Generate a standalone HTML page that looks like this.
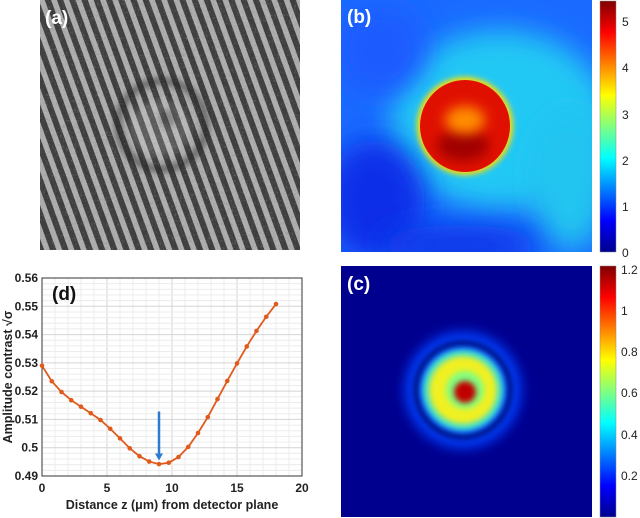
<!DOCTYPE html>
<html><head><meta charset="utf-8"><style>
html,body{margin:0;padding:0;background:#fff;}
svg{display:block;font-family:"Liberation Sans",sans-serif;}
</style></head><body>
<svg id="fig" width="640" height="518" viewBox="0 0 640 518">
<defs>
  <pattern id="stripes" width="11.5" height="20" patternUnits="userSpaceOnUse" patternTransform="rotate(-20)">
    <rect width="11.5" height="20" fill="#3a3a3a"/>
    <rect x="2" width="5.5" height="20" fill="#b0b0b0"/>
  </pattern>
  <filter id="blur3" x="-100%" y="-100%" width="300%" height="300%"><feGaussianBlur stdDeviation="3"/></filter>
  <filter id="blur6" x="-100%" y="-100%" width="300%" height="300%"><feGaussianBlur stdDeviation="6"/></filter>
  <filter id="blur12" x="-100%" y="-100%" width="300%" height="300%"><feGaussianBlur stdDeviation="14"/></filter>
  <filter id="noise"><feTurbulence baseFrequency="0.35" numOctaves="2" seed="3"/><feColorMatrix type="saturate" values="0"/><feComponentTransfer><feFuncA type="table" tableValues="0 0.4"/></feComponentTransfer></filter>
  <linearGradient id="jet" x1="0" y1="1" x2="0" y2="0">
    <stop offset="0" stop-color="#00008f"/>
    <stop offset="0.125" stop-color="#0000ff"/>
    <stop offset="0.375" stop-color="#00ffff"/>
    <stop offset="0.625" stop-color="#ffff00"/>
    <stop offset="0.875" stop-color="#ff0000"/>
    <stop offset="1" stop-color="#800000"/>
  </linearGradient>
  <clipPath id="clipA"><rect x="40" y="0" width="260" height="250"/></clipPath>
  <clipPath id="clipB"><rect x="341" y="0" width="251" height="252"/></clipPath>
  <clipPath id="clipC"><rect x="341" y="266" width="251" height="251"/></clipPath>
</defs>

<!-- Panel (a) -->
<g clip-path="url(#clipA)">
  <rect x="40" y="0" width="260" height="250" fill="url(#stripes)"/>
  <rect x="40" y="0" width="260" height="250" filter="url(#noise)"/>
  <circle cx="162" cy="125" r="44" fill="none" stroke="#222" stroke-width="8" opacity="0.45" filter="url(#blur3)"/>
  <ellipse cx="160" cy="128" rx="30" ry="28" fill="#fff" opacity="0.15" filter="url(#blur3)"/>
  <circle cx="168" cy="118" r="9" fill="#222" opacity="0.3" filter="url(#blur3)"/>
  <text x="45" y="24" font-size="19" font-weight="bold" fill="#fff">(a)</text>
</g>

<!-- Panel (b) -->
<g clip-path="url(#clipB)">
  <rect x="341" y="0" width="251" height="252" fill="#1a6aff"/>
  <ellipse cx="500" cy="120" rx="110" ry="90" fill="#22c8f4" filter="url(#blur12)"/>
  <ellipse cx="570" cy="180" rx="40" ry="70" fill="#20c4f0" filter="url(#blur12)"/>
  <ellipse cx="375" cy="200" rx="50" ry="60" fill="#0a2ee8" filter="url(#blur12)"/>
  <ellipse cx="380" cy="50" rx="45" ry="45" fill="#1a5cff" filter="url(#blur12)"/>
  <ellipse cx="460" cy="245" rx="80" ry="20" fill="#0a35e8" filter="url(#blur12)"/>
  <ellipse cx="465" cy="126" rx="48" ry="49" fill="#ffe000" filter="url(#blur3)"/>
  <ellipse cx="465" cy="126" rx="45" ry="46" fill="#e01000"/>
  <ellipse cx="463" cy="145" rx="26" ry="16" fill="#a00000" filter="url(#blur6)"/>
  <ellipse cx="465" cy="120" rx="20" ry="14" fill="#ff8c00" filter="url(#blur6)"/>
  <text x="347" y="23" font-size="19" font-weight="bold" fill="#fff">(b)</text>
</g>
<g>
  <rect x="600" y="1" width="16" height="251" fill="url(#jet)" stroke="#888" stroke-width="0.5"/>
  <g font-size="12" fill="#222">
    <text x="622" y="26">5</text><text x="622" y="72">4</text><text x="622" y="119">3</text>
    <text x="622" y="165">2</text><text x="622" y="211">1</text><text x="622" y="257">0</text>
  </g>
</g>

<!-- Panel (c) -->
<g clip-path="url(#clipC)">
  <rect x="341" y="266" width="251" height="251" fill="#00008f"/>
  <circle cx="463" cy="390" r="58" fill="#0040ff" filter="url(#blur6)"/>
  <circle cx="463" cy="390" r="47" fill="none" stroke="#000050" stroke-width="4" filter="url(#blur3)"/>
  <circle cx="463" cy="390" r="41" fill="#40e0d0" filter="url(#blur3)"/>
  <circle cx="463" cy="390" r="34" fill="#f0f020" filter="url(#blur3)"/>
  <circle cx="465" cy="390" r="19" fill="#80ff80" filter="url(#blur3)"/>
  <circle cx="465" cy="392" r="11" fill="#c00000" filter="url(#blur3)"/>
  <text x="347" y="290" font-size="19" font-weight="bold" fill="#fff">(c)</text>
</g>
<g>
  <rect x="600" y="266" width="16" height="251" fill="url(#jet)" stroke="#888" stroke-width="0.5"/>
  <g font-size="12" fill="#222">
    <text x="621" y="274">1.2</text><text x="621" y="315">1</text><text x="621" y="356">0.8</text>
    <text x="621" y="397">0.6</text><text x="621" y="439">0.4</text><text x="621" y="480">0.2</text>
  </g>
</g>

<!-- Panel (d) chart -->
<g id="chart"></g>
</svg>
<script>
const xs = [0,0.75,1.5,2.25,3,3.75,4.5,5.25,6,6.75,7.5,8.25,9,9.75,10.5,11.25,12,12.75,13.5,14.25,15,15.75,16.5,17.25,18];
const ys = [0.529,0.5235,0.5197,0.5168,0.5145,0.5122,0.5098,0.5067,0.5033,0.4998,0.497,0.4951,0.4942,0.4947,0.4967,0.5003,0.5052,0.5108,0.5172,0.5236,0.5298,0.5358,0.5413,0.5463,0.5508];
const xTicks = [0,5,10,15,20];
const yTicks = [0.49,0.5,0.51,0.52,0.53,0.54,0.55,0.56];
const yTickLabels = ["0.49","0.5","0.51","0.52","0.53","0.54","0.55","0.56"];
const arrowX = 9, arrowTop = 0.5128, arrowBottom = 0.4955;

const NS = "http://www.w3.org/2000/svg";
const g = document.getElementById("chart");
const L=42, R=302, T=278, B=476;
const sx = v => L + (v-0)/(20-0)*(R-L);
const sy = v => B - (v-0.49)/(0.56-0.49)*(B-T);
function mk(tag, attrs, parent){const e=document.createElementNS(NS,tag);for(const k in attrs)e.setAttribute(k,attrs[k]);(parent||g).appendChild(e);return e;}

mk("rect",{x:L,y:T,width:R-L,height:B-T,fill:"#fff"});
for(let x=1;x<20;x++){
  const l=mk("line",{x1:sx(x),x2:sx(x),y1:T,y2:B,stroke:x%5===0?"#d4d4d4":"#ececec","stroke-width":1});
  
  
}
for(let i=1;i<35;i++){
  const v=0.49+i*0.002;
  const l=mk("line",{x1:L,x2:R,y1:sy(v),y2:sy(v),stroke:i%5===0?"#d4d4d4":"#ececec","stroke-width":1});
  
  
}
const frame=mk("rect",{x:L,y:T,width:R-L,height:B-T,fill:"none",stroke:"#333","stroke-width":1});



xTicks.forEach(v=>{
  const t=mk("text",{x:sx(v),y:B+16,"font-size":12,"font-weight":"bold","text-anchor":"middle",fill:"#222"});
  t.textContent=v;
  
  
});
yTicks.forEach((v,i)=>{
  const t=mk("text",{x:L-4,y:sy(v)+4,"font-size":12,"font-weight":"bold","text-anchor":"end",fill:"#222"});
  t.textContent=yTickLabels[i];
  
  
});
const xt=mk("text",{x:(L+R)/2,y:B+33,"font-size":12.5,"font-weight":"bold","text-anchor":"middle",fill:"#222"});
xt.textContent="Distance z (\u03bcm) from detector plane";


const yt=mk("text",{x:0,y:0,"font-size":12.5,"font-weight":"bold","text-anchor":"middle",fill:"#222",transform:`translate(12,${(T+B)/2}) rotate(-90)`});
yt.textContent="Amplitude contrast \u221a\u03c3";


const dl=mk("text",{x:L+10,y:T+22,"font-size":19,"font-weight":"bold",fill:"#111"});
dl.textContent="(d)";



const line=mk("polyline",{points:xs.map((x,i)=>sx(x)+","+sy(ys[i])).join(" "),fill:"none",stroke:"#e05a1c","stroke-width":1.8});


xs.forEach((x,i)=>{
  const c=mk("circle",{cx:sx(x),cy:sy(ys[i]),r:2.3,fill:"#e05a1c"});
  
  
});
const ar=mk("line",{x1:sx(arrowX),x2:sx(arrowX),y1:sy(arrowTop),y2:sy(arrowBottom)-6,stroke:"#2b7bd0","stroke-width":2.5});


const ah=mk("polygon",{points:`${sx(arrowX)-4},${sy(arrowBottom)-7} ${sx(arrowX)+4},${sy(arrowBottom)-7} ${sx(arrowX)},${sy(arrowBottom)}`,fill:"#2b7bd0"});


</script>
</body></html>
